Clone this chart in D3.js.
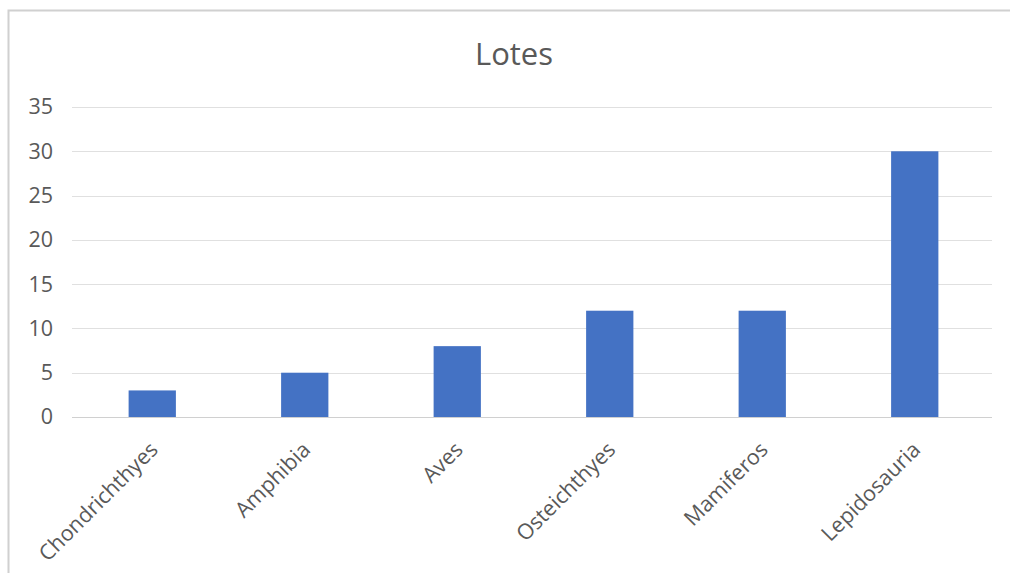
<!DOCTYPE html>
<html><head><meta charset="utf-8">
<script src="https://cdn.jsdelivr.net/npm/d3@7"></script>
<style>body{margin:0;background:#fff;} svg{display:block;}</style>
</head><body>
<svg id="c" width="1010" height="573"></svg>
<script>
const categories = ["Chondrichthyes","Amphibia","Aves","Osteichthyes","Mamiferos","Lepidosauria"];
const values = [3,5,8,12,12,30];
const yTicks = [0,5,10,15,20,25,30,35];
const title = "Lotes";

const svg = d3.select("#c");
const font = "'Open Sans', sans-serif";
// chart border
svg.append("path").attr("d","M8.5,573 L8.5,10.5 L1010,10.5").attr("fill","none").attr("stroke","#d0d0d0").attr("stroke-width",2);

const x = d3.scaleBand().domain(categories).range([76,991]).paddingInner(0.69).paddingOuter(0.345);
const y = d3.scaleLinear().domain([0,35]).range([417,107]);

svg.append("text").attr("x",514).attr("y",65).attr("text-anchor","middle")
  .attr("font-family",font).attr("font-size",31).attr("fill","#595959").text(title);

const grid = svg.append("g");
grid.selectAll("line").data(yTicks).join("line")
  .attr("x1",72).attr("x2",992).attr("y1",d=>Math.round(y(d))+0.5).attr("y2",d=>Math.round(y(d))+0.5)
  .attr("stroke",d=>d===0?"#d0d0d0":"#e0e0e0").attr("stroke-width",1);

const yAxis = d3.axisLeft(y).tickValues(yTicks).tickSize(0).tickPadding(0);
const ya = svg.append("g").attr("transform","translate(53,0)").call(yAxis);
ya.select(".domain").remove();
ya.selectAll("text").attr("font-family",font).attr("font-size",21.5).attr("fill","#595959");

svg.append("g").selectAll("rect").data(values).join("rect")
  .attr("x",(d,i)=>x(categories[i])).attr("width",x.bandwidth())
  .attr("y",d=>y(d)).attr("height",d=>y(0)-y(d)).attr("fill","#4472c4");

const xAxis = d3.axisBottom(x).tickSize(0).tickPadding(0);
const xa = svg.append("g").attr("transform","translate(0,417)").call(xAxis);
xa.select(".domain").remove();
xa.selectAll("text").attr("font-family",font).attr("font-size",21.5).attr("fill","#595959")
  .attr("text-anchor","end").attr("dy",0).attr("y",0).attr("transform","translate(7,34) rotate(-45)");
</script>
</body></html>
